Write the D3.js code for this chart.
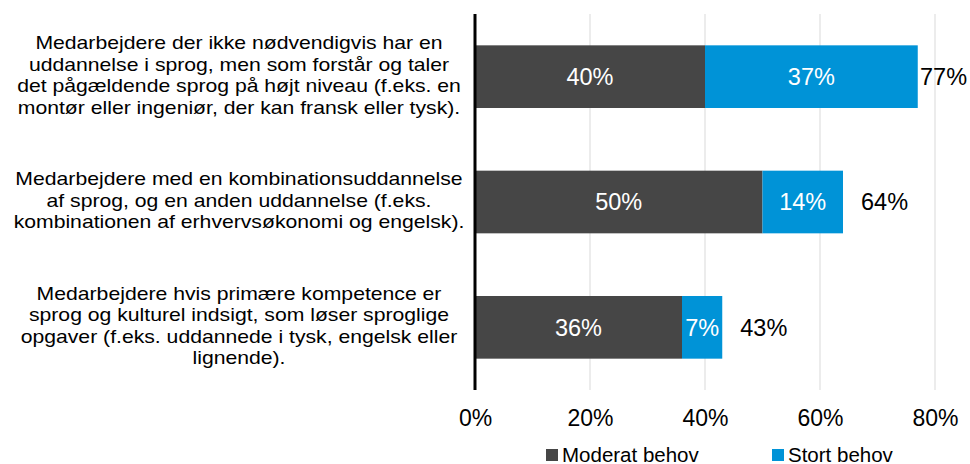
<!DOCTYPE html>
<html>
<head>
<meta charset="utf-8">
<script src="https://cdn.jsdelivr.net/npm/d3@7"></script>
<style>
  body { margin: 0; background: #fff; }
  text { font-family: "Liberation Sans", Arial, sans-serif; }
</style>
</head>
<body>
<div id="chart"></div>
<script>
// data
const categories = [
  ["Medarbejdere der ikke nødvendigvis har en", "uddannelse i sprog, men som forstår og taler", "det pågældende sprog på højt niveau (f.eks. en", "montør eller ingeniør, der kan fransk eller tysk)."],
  ["Medarbejdere med en kombinationsuddannelse", "af sprog, og en anden uddannelse (f.eks.", "kombinationen af erhvervsøkonomi og engelsk)."],
  ["Medarbejdere hvis primære kompetence er", "sprog og kulturel indsigt, som løser sproglige", "opgaver (f.eks. uddannede i tysk, engelsk eller", "lignende)."]
];
const seriesNames = ["Moderat behov", "Stort behov"];
const moderat = [40, 50, 36];
const stort = [37, 14, 7];
const totals = [77, 64, 43];
const ticks = [0, 20, 40, 60, 80];
const colors = ["#464646", "#0093d7"];

const w = 970, h = 464;
const plotLeft = 475, plotRight = 935, plotTop = 14, plotBottom = 390;

const svg = d3.select("#chart").append("svg")
  .attr("width", w)
  .attr("height", h);

const x = d3.scaleLinear().domain([0, 80]).range([plotLeft, plotRight]);
const y = d3.scaleBand().domain(d3.range(categories.length)).range([plotTop, plotBottom]).paddingInner(0.5).paddingOuter(0.25);

// gridlines
svg.append("g")
  .selectAll("line")
  .data(ticks.slice(1))
  .enter().append("line")
  .attr("x1", d => x(d)).attr("x2", d => x(d))
  .attr("y1", plotTop).attr("y2", plotBottom)
  .attr("stroke", "#d9d9d9")
  .attr("stroke-width", 1);

// x axis labels
const xAxis = d3.axisBottom(x).tickValues(ticks).tickFormat(d => d + "%").tickSize(0).tickPadding(0);
const gx = svg.append("g")
  .attr("transform", `translate(0, ${plotBottom})`)
  .call(xAxis);
gx.select(".domain").remove();
gx.selectAll("text")
  .attr("dy", null)
  .attr("y", 36)
  .style("font-size", "23px")
  .style("font-family", "'Liberation Sans', Arial, sans-serif")
  .attr("fill", "#000");

// bars
const stacked = categories.map((c, i) => [
  { i, s: 0, x0: 0, x1: moderat[i], v: moderat[i] },
  { i, s: 1, x0: moderat[i], x1: moderat[i] + stort[i], v: stort[i] }
]).flat();

svg.append("g")
  .selectAll("rect")
  .data(stacked)
  .enter().append("rect")
  .attr("x", d => x(d.x0))
  .attr("width", d => x(d.x1) - x(d.x0))
  .attr("y", d => y(d.i))
  .attr("height", y.bandwidth())
  .attr("fill", d => colors[d.s]);

svg.append("g")
  .selectAll("text")
  .data(stacked)
  .enter().append("text")
  .attr("x", d => (x(d.x0) + x(d.x1)) / 2)
  .attr("y", d => y(d.i) + y.bandwidth() / 2)
  .attr("dy", "0.36em")
  .attr("text-anchor", "middle")
  .attr("fill", "#fff")
  .style("font-size", "23.5px")
  .text(d => d.v + "%");

// totals
svg.append("g")
  .selectAll("text")
  .data(totals)
  .enter().append("text")
  .attr("x", (d, i) => Math.min(x(moderat[i] + stort[i]) + 18, w - 50))
  .attr("y", (d, i) => y(i) + y.bandwidth() / 2)
  .attr("dy", "0.36em")
  .attr("fill", "#000")
  .style("font-size", "23.5px")
  .text(d => d + "%");

// zero axis line
svg.append("line")
  .attr("x1", x(0)).attr("x2", x(0))
  .attr("y1", plotTop).attr("y2", plotBottom)
  .attr("stroke", "#000")
  .attr("stroke-width", 3);

// category labels (slightly wide glyphs like the source)
const lineH = 21.5, labelX = 239, stretch = 1.115;
const labels = svg.append("g")
  .attr("transform", `translate(${labelX},0) scale(${stretch},1)`)
  .selectAll("text")
  .data(categories)
  .enter().append("text")
  .attr("text-anchor", "middle")
  .attr("fill", "#000")
  .style("font-size", "19px");

labels.selectAll("tspan")
  .data((d, i) => d.map((t, j) => ({ t, j, n: d.length, i })))
  .enter().append("tspan")
  .attr("x", 0)
  .attr("y", d => y(d.i) + y.bandwidth() / 2 - 2 + (d.j - (d.n - 1) / 2) * lineH)
  .attr("dy", "0.36em")
  .text(d => d.t);

// legend
const legend = svg.append("g").attr("id", "legend");
const legendX = [546, 772];
seriesNames.forEach((name, i) => {
  legend.append("rect")
    .attr("x", legendX[i]).attr("y", 449)
    .attr("width", 12).attr("height", 12)
    .attr("fill", colors[i]);
  legend.append("text")
    .attr("x", legendX[i] + 16).attr("y", 455)
    .attr("dy", "0.36em")
    .style("font-size", "20.5px")
    .attr("fill", "#000")
    .text(name);
});
</script>
</body>
</html>
